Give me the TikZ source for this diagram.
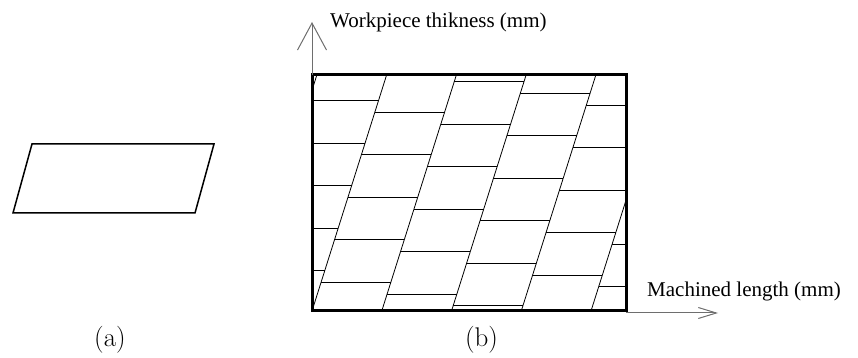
\documentclass[tikz,border=0pt]{standalone}
\usepackage{fontspec}
\newfontfamily\labelfont{Liberation Serif}
\usetikzlibrary{arrows.meta}
\definecolor{axisGray}{HTML}{6E6E6E}

\begin{document}
\begin{tikzpicture}[x=1pt, y=1pt,
    axis/.style={draw=axisGray, line width=1pt},
    tile/.style={draw=black, line width=0.8pt},
    axislabel/.style={font=\labelfont\fontsize{21}{23}\selectfont, anchor=base west, inner sep=0pt},
    caption/.style={font=\fontsize{27}{29}\selectfont, anchor=base, inner sep=0pt}]
  \useasboundingbox (0,0) rectangle (858,358);
  % (a) single grain
  \draw[line width=1.5pt] (32,214) -- (214,214) -- (195,145) -- (13,145) -- cycle;
  \node[caption] (capa) at (110,11) {(a)};
  % (b) sheared grains in the workpiece
  \begin{scope}
    \clip (312,47) rectangle (626,283);
    % slanted boundaries
    \foreach \k in {-1,...,5}
      \draw[tile] ({312+69.75*\k},47) -- ++(74.6,236);
    % horizontal boundaries, column by column
    \foreach \k in {0,...,5}
      \foreach \n in {-1,...,6}
        \draw[tile] ({312+69.75*(\k-1)+0.316*(257.3-11.7*\k-42.5*\n-47)},{257.3-11.7*\k-42.5*\n}) -- ++(69.75,0);
  \end{scope}
  % Frame
  \draw[line width=3pt] (312,47) rectangle (626,283);
  % Axes
  \coordinate (ybase) at (312,283);
  \coordinate (ytip) at (312,336);
  \coordinate (xbase) at (626,45);
  \coordinate (xtip) at (718,45);
  \draw[axis, -{Straight Barb[length=27pt, width=29pt]}] (ybase) -- (ytip);
  \draw[axis, -{Straight Barb[length=18pt, width=11pt]}] (xbase) -- (xtip);
  \node[axislabel] (ylab) at (330,330) {Workpiece thikness (mm)};
  \node[axislabel] (xlab) at (647,61) {Machined length (mm)};
  \node[caption] (capb) at (481.5,11) {(b)};
\end{tikzpicture}
\end{document}
